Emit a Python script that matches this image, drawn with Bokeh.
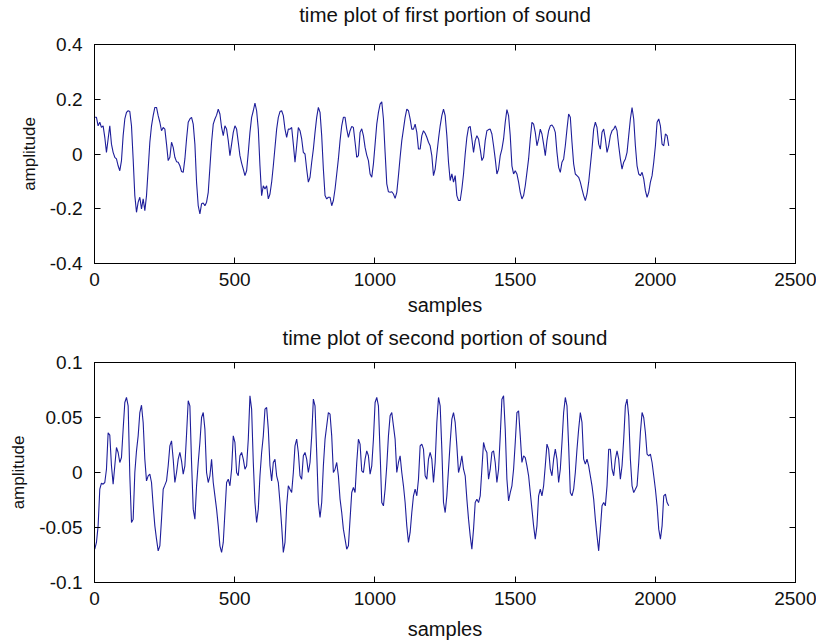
import numpy as np
from bokeh.plotting import figure
from bokeh.layouts import column
from bokeh.models import LinearAxis, FixedTicker, Range1d
from bokeh.embed import file_html
from bokeh.resources import INLINE

# amplitude, first portion (samples 1..2048)
amp1 = [
    0.134, 0.134, 0.103, 0.116, 0.097, 0.103, 0.061, 0.006, 0.055, 0.103,
    0.036, 0.006, -0.012, -0.018, -0.043, -0.061, -0.024, 0.067, 0.128, 0.152,
    0.158, 0.155, 0.103, -0.018, -0.152, -0.213, -0.176, -0.158, -0.201, -0.164,
    -0.207, -0.152, -0.055, 0.043, 0.103, 0.140, 0.170, 0.170, 0.140, 0.116,
    0.085, 0.097, 0.091, 0.036, -0.024, -0.012, 0.043, 0.024, -0.012, -0.028,
    -0.030, -0.043, -0.064, -0.067, -0.018, 0.055, 0.116, 0.128, 0.134, 0.109,
    0.036, -0.103, -0.189, -0.219, -0.182, -0.179, -0.189, -0.176, -0.140, -0.049,
    0.043, 0.109, 0.128, 0.142, 0.164, 0.146, 0.097, 0.067, 0.103, 0.091,
    0.049, -0.006, 0.036, 0.079, 0.103, 0.091, 0.043, -0.006, -0.033, -0.055,
    -0.079, -0.061, 0.006, 0.079, 0.134, 0.158, 0.186, 0.158, 0.091, -0.043,
    -0.152, -0.116, -0.128, -0.116, -0.164, -0.146, -0.103, -0.043, 0.024, 0.091,
    0.134, 0.155, 0.158, 0.140, 0.091, 0.061, 0.091,
    0.091, 0.097, 0.036, -0.030, 0.030, 0.097, 0.085, 0.055, 0.006, 0.000,
    -0.055, -0.103, -0.085, -0.030, 0.018, 0.079, 0.134, 0.170, 0.152, 0.067,
    -0.055, -0.152, -0.164, -0.158, -0.158, -0.189, -0.170, -0.128, -0.073, -0.018,
    0.049, 0.103, 0.134, 0.134, 0.091, 0.061, 0.085, 0.101, 0.097, 0.043,
    -0.012, -0.006, 0.079, 0.092, 0.067, 0.024, -0.004, -0.024, -0.073, -0.085,
    -0.036, 0.036, 0.109, 0.152, 0.182, 0.191, 0.128, 0.006, -0.109, -0.138,
    -0.140, -0.138, -0.146, -0.162, -0.140, -0.079, -0.012, 0.049, 0.091, 0.134,
    0.164, 0.158, 0.128, 0.091, 0.091, 0.109, 0.079, 0.018, 0.018, 0.067,
    0.085, 0.076, 0.061, 0.043, 0.030, -0.006, -0.079, -0.055, 0.000, 0.055,
    0.103, 0.140, 0.164, 0.140, 0.067, -0.030, -0.097, -0.073, -0.103, -0.079,
    -0.152, -0.170, -0.170, -0.128, -0.073, 0.000, 0.061, 0.097, 0.101, 0.055,
    0.006, 0.049, 0.067, 0.055, 0.018, -0.024, -0.012, 0.049,
    0.085, 0.089, 0.091, 0.073, 0.030, -0.018, -0.073, -0.055, -0.006, 0.018,
    0.055, 0.116, 0.162, 0.140, 0.067, -0.043, -0.073, -0.061, -0.073, -0.103,
    -0.140, -0.164, -0.152, -0.116, -0.067, -0.018, 0.055, 0.116, 0.109, 0.079,
    0.030, 0.055, 0.091, 0.073, 0.036, -0.006, 0.049, 0.085, 0.103, 0.106,
    0.097, 0.079, 0.006, -0.049, -0.067, -0.030, -0.018, 0.030, 0.091, 0.146,
    0.134, 0.043, -0.036, -0.073, -0.079, -0.085, -0.103, -0.128, -0.152, -0.170,
    -0.146, -0.103, -0.043, 0.018, 0.091, 0.116, 0.097, 0.036, 0.018, 0.079,
    0.091, 0.055, 0.006, 0.030, 0.067, 0.085, 0.091, 0.103, 0.085, 0.030,
    -0.018, -0.055, -0.030, -0.018, 0.006, 0.067, 0.128, 0.170, 0.128, 0.030,
    -0.043, -0.073, -0.079, -0.067, -0.091, -0.134, -0.158, -0.140, -0.103, -0.079,
    -0.030, 0.030, 0.116, 0.128, 0.103, 0.036, 0.030, 0.073, 0.067, 0.030,
]

# amplitude, second portion (samples 1..2048)
amp2 = [
    -0.0697, -0.0636, -0.0485, -0.0152, -0.0097, -0.0106, -0.0091, 0.0030, 0.0360, 0.0340,
    0.0061, -0.0106, 0.0061, 0.0227, 0.0182, 0.0091, 0.0136, 0.0394, 0.0636, 0.0682,
    0.0606, -0.0030, -0.0455, -0.0424, 0.0000, 0.0197, 0.0333, 0.0545, 0.0612, 0.0455,
    0.0121, -0.0076, -0.0030, -0.0015, -0.0091, -0.0303, -0.0485, -0.0606, -0.0712, -0.0667,
    -0.0424, -0.0152, -0.0115, -0.0076, 0.0061, 0.0242, 0.0288, 0.0121, -0.0091, 0.0000,
    0.0121, 0.0182, 0.0106, -0.0015, 0.0061, 0.0348, 0.0652, 0.0606, 0.0091, -0.0333,
    -0.0424, -0.0121, 0.0091, 0.0273, 0.0500, 0.0545, 0.0394, 0.0000, -0.0091, -0.0030,
    0.0121, -0.0091, -0.0212, -0.0333, -0.0485, -0.0667, -0.0727, -0.0636, -0.0364, -0.0091,
    -0.0061, -0.0121, 0.0030, 0.0333, 0.0273, 0.0000, -0.0030, 0.0152, 0.0182, 0.0121,
    0.0030, 0.0061, 0.0303, 0.0697, 0.0576, 0.0091, -0.0273, -0.0455, -0.0333, -0.0030,
    0.0182, 0.0333, 0.0576, 0.0591, 0.0394, 0.0061, -0.0076, 0.0091, 0.0121, -0.0030,
    -0.0091, -0.0273, -0.0485, -0.0727, -0.0636, -0.0303, -0.0121,
    -0.0152, -0.0182, 0.0000, 0.0242, 0.0303, 0.0182, -0.0030, -0.0061, 0.0152, 0.0182,
    0.0121, 0.0000, 0.0091, 0.0333, 0.0667, 0.0606, 0.0182, -0.0273, -0.0409, -0.0273,
    0.0061, 0.0303, 0.0424, 0.0545, 0.0530, 0.0333, 0.0000, 0.0030, 0.0091, -0.0030,
    -0.0242, -0.0364, -0.0515, -0.0606, -0.0697, -0.0667, -0.0424, -0.0182, -0.0136, -0.0182,
    0.0091, 0.0303, 0.0258, 0.0015, 0.0000, 0.0121, 0.0197, 0.0152, -0.0015, 0.0061,
    0.0303, 0.0636, 0.0682, 0.0606, 0.0182, -0.0273, -0.0303, -0.0152, 0.0061, 0.0333,
    0.0515, 0.0545, 0.0424, 0.0303, 0.0000, 0.0091, 0.0152, 0.0000, -0.0121, -0.0273,
    -0.0485, -0.0636, -0.0545, -0.0364, -0.0212, -0.0152, -0.0212, -0.0061, 0.0242, 0.0258,
    0.0212, -0.0030, -0.0061, 0.0121, 0.0182, 0.0121, -0.0091, 0.0091, 0.0455, 0.0682,
    0.0606, 0.0212, -0.0273, -0.0364, -0.0212, 0.0030, 0.0273, 0.0485, 0.0545, 0.0455,
    0.0242, 0.0000, 0.0061, 0.0152, 0.0030, -0.0030, -0.0242, -0.0424, -0.0576, -0.0697,
    -0.0515, -0.0273, -0.0242, -0.0273, -0.0212, 0.0030, 0.0273, 0.0212,
    0.0182, -0.0061, 0.0030, 0.0182, 0.0197, 0.0091, -0.0091, 0.0030, 0.0333, 0.0667,
    0.0697, 0.0394, -0.0061, -0.0258, -0.0182, -0.0121, 0.0030, 0.0273, 0.0545, 0.0561,
    0.0333, 0.0091, 0.0152, 0.0136, 0.0061, -0.0030, -0.0182, -0.0333, -0.0485, -0.0606,
    -0.0485, -0.0212, -0.0152, -0.0212, -0.0121, 0.0061, 0.0258, 0.0212, 0.0030, -0.0030,
    0.0121, 0.0212, 0.0121, -0.0091, 0.0030, 0.0273, 0.0545, 0.0682, 0.0606, 0.0242,
    -0.0182, -0.0212, -0.0152, 0.0000, 0.0212, 0.0394, 0.0545, 0.0455, 0.0121, 0.0076,
    0.0121, 0.0061, -0.0030, -0.0121, -0.0242, -0.0424, -0.0576, -0.0712, -0.0515, -0.0303,
    -0.0273, -0.0303, -0.0121, 0.0212, 0.0212, 0.0030, -0.0030, 0.0121, 0.0197, 0.0121,
    -0.0061, 0.0061, 0.0303, 0.0606, 0.0667, 0.0515, 0.0121, -0.0121, -0.0182, -0.0152,
    -0.0121, 0.0091, 0.0364, 0.0545, 0.0500, 0.0364, 0.0167, 0.0152, 0.0167, 0.0091,
    -0.0030, -0.0152, -0.0303, -0.0515, -0.0606, -0.0485, -0.0212, -0.0197, -0.0273, -0.0303,
]

n_samples = 2048
x_ticks = [0, 500, 1000, 1500, 2000, 2500]
y1_ticks = [-0.4, -0.2, 0, 0.2, 0.4]
y1_labels = ["-0.4", "-0.2", "0", "0.2", "0.4"]
y2_ticks = [-0.1, -0.05, 0, 0.05, 0.1]
y2_labels = ["-0.1", "-0.05", "0", "0.05", "0.1"]
titles = ["time plot of first portion of sound", "time plot of second portion of sound"]
x_label = "samples"
y_label = "amplitude"

FONT = "Liberation Sans"
TICK_FS = "19px"
TITLE_FS = "20.5px"
XLAB_FS = "20px"
YLAB_FS = "17px"
TXT = "#111111"
LINE = "#1e1e9a"


def make(amp, yt, yl, title, border_top, border_bottom, title_gap,
         tick_standoff, xlab_standoff):
    x = np.linspace(1, n_samples, len(amp))
    p = figure(width=816, height=322, output_backend="svg", toolbar_location=None,
               x_range=Range1d(0, 2500), y_range=Range1d(yt[0], yt[-1]),
               min_border_left=94, min_border_right=21,
               min_border_top=border_top, min_border_bottom=border_bottom,
               x_axis_label=x_label, y_axis_label=y_label)
    p.line(x, amp, line_color=LINE, line_width=1.1)
    p.grid.visible = False
    p.outline_line_color = "black"
    p.outline_line_width = 1
    p.background_fill_color = "white"
    p.border_fill_color = "white"

    p.title.text = title
    p.title.align = "center"
    p.title.text_font = FONT
    p.title.text_font_size = TITLE_FS
    p.title.text_font_style = "normal"
    p.title.text_color = TXT
    p.title.standoff = 0

    overrides = {t: l for t, l in zip(yt, yl)}
    for ax in p.xaxis:
        ax.ticker = FixedTicker(ticks=x_ticks)
        ax.axis_label_text_font_size = XLAB_FS
        ax.major_label_standoff = tick_standoff
        ax.axis_label_standoff = xlab_standoff
    for ax in p.yaxis:
        ax.ticker = FixedTicker(ticks=yt)
        ax.major_label_overrides = overrides
        ax.axis_label_text_font_size = YLAB_FS
        ax.major_label_standoff = 12
        ax.axis_label_standoff = 8
    for ax in list(p.xaxis) + list(p.yaxis):
        ax.major_tick_in = 6
        ax.major_tick_out = 0
        ax.minor_tick_line_color = None
        ax.axis_line_color = "black"
        ax.major_tick_line_color = "black"
        ax.major_label_text_font = FONT
        ax.major_label_text_font_size = TICK_FS
        ax.major_label_text_color = TXT
        ax.axis_label_text_font = FONT
        ax.axis_label_text_font_style = "normal"
        ax.axis_label_text_color = TXT

    # tick marks on the top and right edges of the box (no labels)
    top_ax = LinearAxis(ticker=FixedTicker(ticks=x_ticks), major_tick_in=6, major_tick_out=0,
                        major_label_text_color=None, major_label_text_font_size="1px",
                        major_label_standoff=0,
                        minor_tick_line_color=None, axis_line_color="black")
    right_ax = LinearAxis(ticker=FixedTicker(ticks=yt), major_tick_in=6, major_tick_out=0,
                          major_label_text_color=None, major_label_text_font_size="1px",
                          major_label_standoff=0,
                          minor_tick_line_color=None, axis_line_color="black")
    # invisible spacer axis: only keeps the title clear of the box
    gap_ax = LinearAxis(ticker=FixedTicker(ticks=x_ticks), major_tick_in=0, major_tick_out=title_gap,
                        major_tick_line_color=None, axis_line_color=None,
                        major_label_text_color=None, major_label_text_font_size="1px",
                        major_label_standoff=0, minor_tick_line_color=None)
    p.add_layout(top_ax, "above")
    p.add_layout(gap_ax, "above")
    p.add_layout(right_ax, "right")
    return p


p1 = make(amp1, y1_ticks, y1_labels, titles[0], 43, 59, 19, 9, 5)
p2 = make(amp2, y2_ticks, y2_labels, titles[1], 40, 62, 14, 9, 10)
layout = column(p1, p2, spacing=0)

open("out.html", "w").write(file_html(layout, INLINE))
